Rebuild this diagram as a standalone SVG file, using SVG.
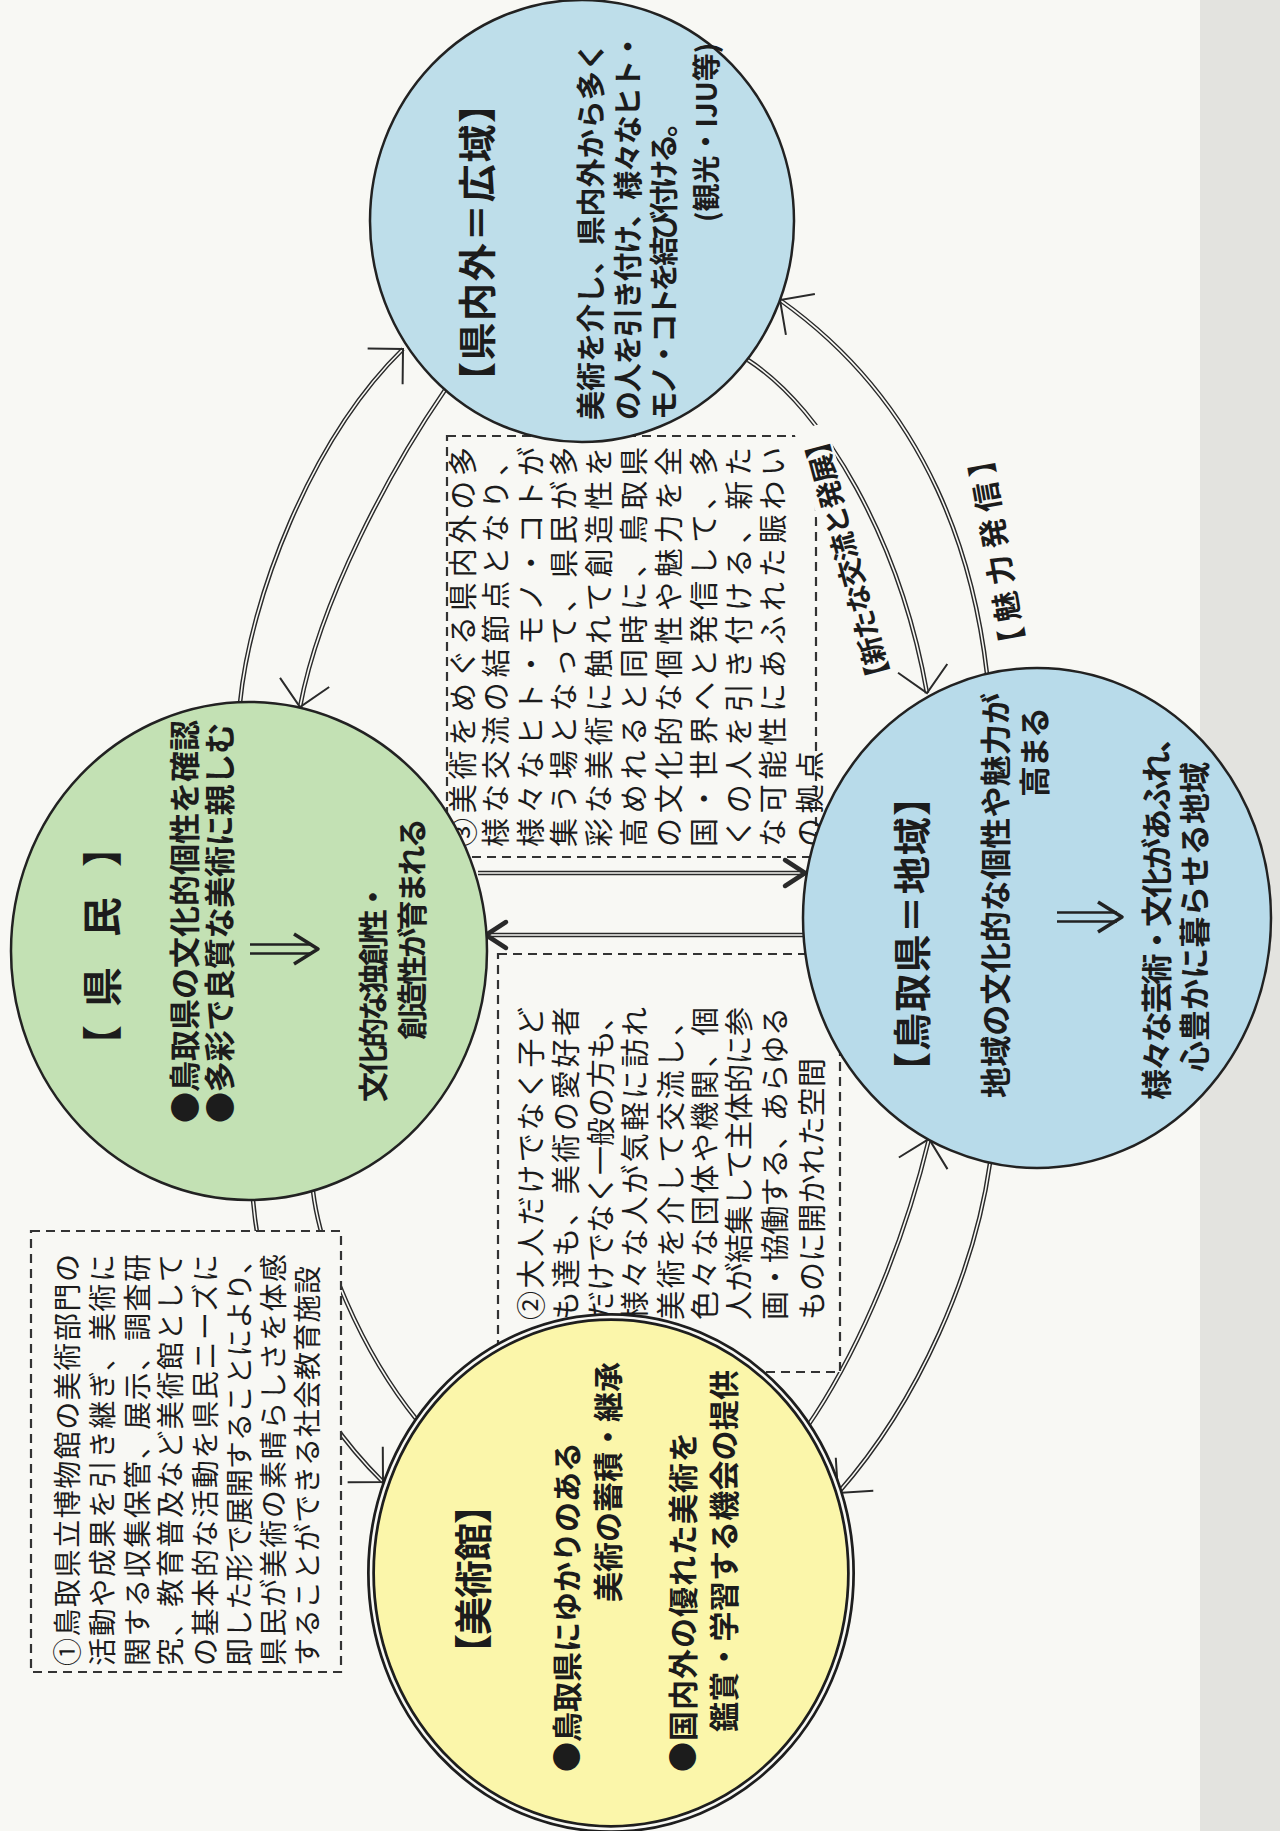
<svg xmlns="http://www.w3.org/2000/svg" width="1280" height="1831" viewBox="0 0 1280 1831">
<defs>
<style>
.t{font-family:'Noto Sans CJK JP','Noto Sans CJK SC','Noto Sans',sans-serif;fill:#1c1c1c;dominant-baseline:central}
.bx{font-size:29px;font-weight:400}
.b1{font-size:28px;font-weight:400}
.cb{font-weight:700}
.cir{stroke:#222;stroke-width:2.5}
.box{fill:#f8f8f4;stroke:#333;stroke-width:2.2;stroke-dasharray:9 6}
.d1{fill:none;stroke:#2a2a2a;stroke-width:4.5}
.d2{fill:none;stroke:#f8f8f4;stroke-width:1.6}
.sh{stroke:#222;stroke-width:2.6;fill:none}
.hd{stroke:#222;stroke-width:3.5;fill:none;stroke-linejoin:round}
</style>
<marker id="ah" markerUnits="userSpaceOnUse" orient="auto" refX="0" refY="0" markerWidth="1" markerHeight="1" style="overflow:visible"><path d="M-25,-25 L0,0 L-25,25" fill="none" stroke="#2a2a2a" stroke-width="2"/></marker>
<marker id="ahb" markerUnits="userSpaceOnUse" orient="auto" refX="0" refY="0" markerWidth="1" markerHeight="1" style="overflow:visible"><path d="M-20,-13 L0,0 L-20,13" fill="none" stroke="#2a2a2a" stroke-width="4.5" stroke-linecap="round" stroke-linejoin="round"/></marker>
</defs>
<rect x="0" y="0" width="1280" height="1831" fill="#f8f8f4"/>
<rect x="1200" y="0" width="80" height="1831" fill="#e3e3df"/>

<g id="connectors">
<path class="d1" d="M240,703 C250,600 310,440 403,349"/><path class="d2" d="M240,703 C250,600 310,440 403,349" marker-end="url(#ah)"/>
<path class="d1" d="M445,390 C390,470 320,600 300,707"/><path class="d2" d="M445,390 C390,470 320,600 300,707" marker-end="url(#ah)"/>
<path class="d1" d="M253,1200 C262,1300 300,1400 383,1482"/><path class="d2" d="M253,1200 C262,1300 300,1400 383,1482" marker-end="url(#ah)"/>
<path class="d1" d="M313,1191 C320,1250 360,1350 417,1420"/><path class="d2" d="M313,1191 C320,1250 360,1350 417,1420"/>
<path class="d1" d="M748,360 C825,410 900,540 927,693"/><path class="d2" d="M748,360 C825,410 900,540 927,693" marker-end="url(#ah)"/>
<path class="d1" d="M987,674 C975,570 935,410 780,300"/><path class="d2" d="M987,674 C975,570 935,410 780,300" marker-end="url(#ah)"/>
<path class="d1" d="M807,1427 C850,1365 900,1260 929,1139"/><path class="d2" d="M807,1427 C850,1365 900,1260 929,1139" marker-end="url(#ah)"/>
<path class="d1" d="M990,1163 C975,1270 920,1400 838,1493"/><path class="d2" d="M990,1163 C975,1270 920,1400 838,1493" marker-end="url(#ah)"/>
<path class="d1" d="M478,873 L805,873"/><path class="d2" d="M478,873 L805,873" marker-end="url(#ahb)"/>
<path class="d1" d="M805,935 L486,935"/><path class="d2" d="M805,935 L486,935" marker-end="url(#ahb)"/>
</g>

<g id="box1">
<rect class="box" x="31" y="1231" width="310" height="441"/>
<text class="t b1" transform="translate(66,1666) rotate(-90)" textLength="412">①鳥取県立博物館の美術部門の</text>
<text class="t b1" transform="translate(101,1666) rotate(-90)" textLength="412">活動や成果を引き継ぎ、美術に</text>
<text class="t b1" transform="translate(136,1666) rotate(-90)" textLength="412">関する収集保管、展示、調査研</text>
<text class="t b1" transform="translate(169,1666) rotate(-90)" textLength="412">究、教育普及など美術館として</text>
<text class="t b1" transform="translate(204,1666) rotate(-90)" textLength="412">の基本的な活動を県民ニーズに</text>
<text class="t b1" transform="translate(238,1666) rotate(-90)" textLength="420">即した形で展開することにより、</text>
<text class="t b1" transform="translate(272,1666) rotate(-90)" textLength="412">県民が美術の素晴らしさを体感</text>
<text class="t b1" transform="translate(306,1666) rotate(-90)" textLength="400">することができる社会教育施設</text>
</g>

<g id="box2">
<rect class="box" x="498" y="954" width="342" height="418"/>
<text class="t bx" transform="translate(529,1320) rotate(-90)" textLength="313">②大人だけでなく子ど</text>
<text class="t bx" transform="translate(564,1320) rotate(-90)" textLength="313">も達も、美術の愛好者</text>
<text class="t bx" transform="translate(599,1320) rotate(-90)" textLength="318">だけでなく一般の方も、</text>
<text class="t bx" transform="translate(633,1320) rotate(-90)" textLength="313">様々な人が気軽に訪れ</text>
<text class="t bx" transform="translate(669,1320) rotate(-90)" textLength="313">美術を介して交流し、</text>
<text class="t bx" transform="translate(703,1320) rotate(-90)" textLength="313">色々な団体や機関、個</text>
<text class="t bx" transform="translate(737,1320) rotate(-90)" textLength="313">人が結集して主体的に参</text>
<text class="t bx" transform="translate(773,1320) rotate(-90)" textLength="313">画・協働する、あらゆる</text>
<text class="t bx" transform="translate(810,1320) rotate(-90)" textLength="262">ものに開かれた空間</text>
</g>

<g id="box3">
<rect class="box" x="447" y="436" width="369" height="421"/>
<text class="t bx" transform="translate(461,847) rotate(-90)" textLength="400">③美術をめぐる県内外の多</text>
<text class="t bx" transform="translate(494,847) rotate(-90)" textLength="400">様な交流の結節点となり、</text>
<text class="t bx" transform="translate(529,847) rotate(-90)" textLength="400">様々なヒト・モノ・コトが</text>
<text class="t bx" transform="translate(562,847) rotate(-90)" textLength="400">集う場となって、県民が多</text>
<text class="t bx" transform="translate(597,847) rotate(-90)" textLength="400">彩な美術に触れて創造性を</text>
<text class="t bx" transform="translate(632,847) rotate(-90)" textLength="400">高めれると同時に、鳥取県</text>
<text class="t bx" transform="translate(667,847) rotate(-90)" textLength="400">の文化的な個性や魅力を全</text>
<text class="t bx" transform="translate(702,847) rotate(-90)" textLength="400">国・世界へと発信して、多</text>
<text class="t bx" transform="translate(737,847) rotate(-90)" textLength="400">くの人を引き付ける、新た</text>
<text class="t bx" transform="translate(771,847) rotate(-90)" textLength="400">な可能性にあふれた賑わい</text>
<text class="t bx" transform="translate(808,847) rotate(-90)" textLength="96">の拠点</text>
</g>

<g id="label-kouryu" transform="translate(846,560) rotate(-105)">
<rect x="-138" y="-17" width="276" height="34" fill="#f8f8f4"/>
<text class="t cb" font-size="28" text-anchor="middle" textLength="270">【新たな交流と発展】</text>
</g>
<g id="label-miryoku" transform="translate(995,552) rotate(-100)">
<text class="t cb" font-size="30" text-anchor="middle" textLength="215">【魅力発信】</text>
</g>

<g id="node-kengai">
<ellipse class="cir" cx="582" cy="221" rx="212" ry="221" fill="#bedeea"/>
<text class="t cb" font-size="38" transform="translate(474,400) rotate(-90)" textLength="315">【県内外＝広域】</text>
<text class="t cb" font-size="29" transform="translate(589,420) rotate(-90)" textLength="378">美術を介し、県内外から多く</text>
<text class="t cb" font-size="29" transform="translate(626,420) rotate(-90)" textLength="388">の人を引き付け、様々なヒト・</text>
<text class="t cb" font-size="29" transform="translate(662,420) rotate(-90)" textLength="312">モノ・コトを結び付ける。</text>
<text class="t cb" font-size="28" transform="translate(705,222) rotate(-90)">(観光・IJU等)</text>
</g>

<g id="node-kenmin">
<ellipse class="cir" cx="249" cy="951" rx="238" ry="249" fill="#c3e1b4"/>
<text class="t cb" font-size="40" text-anchor="middle" transform="translate(100,1045) rotate(-90)">【</text>
<text class="t cb" font-size="40" text-anchor="middle" transform="translate(100,987) rotate(-90)">県</text>
<text class="t cb" font-size="40" text-anchor="middle" transform="translate(100,917) rotate(-90)">民</text>
<text class="t cb" font-size="40" text-anchor="middle" transform="translate(100,847) rotate(-90)">】</text>
<text class="t cb" font-size="31" transform="translate(182,1123) rotate(-90)" textLength="403">●鳥取県の文化的個性を確認</text>
<text class="t cb" font-size="31" transform="translate(217,1123) rotate(-90)" textLength="400">●多彩で良質な美術に親しむ</text>
<path class="sh" d="M250,944.5 H312 M250,953.5 H312"/>
<path class="hd" d="M294,934 L318,949 L294,964"/>
<text class="t cb" font-size="30" transform="translate(371,1102) rotate(-90)" textLength="220">文化的な独創性・</text>
<text class="t cb" font-size="30" transform="translate(410,1040) rotate(-90)" textLength="222">創造性が育まれる</text>
</g>

<g id="node-chiiki">
<ellipse class="cir" cx="1037" cy="918" rx="234" ry="250" fill="#b8dbea"/>
<text class="t cb" font-size="38" transform="translate(909,1090) rotate(-90)" textLength="312">【鳥取県＝地域】</text>
<text class="t cb" font-size="31" transform="translate(993,1098) rotate(-90)" textLength="405">地域の文化的な個性や魅力が</text>
<text class="t cb" font-size="31" transform="translate(1032,797) rotate(-90)" textLength="90">高まる</text>
<path class="sh" d="M1057,912.5 H1117 M1057,921.5 H1117"/>
<path class="hd" d="M1098,902 L1122,917 L1098,932"/>
<text class="t cb" font-size="31" transform="translate(1154,1100) rotate(-90)" textLength="378">様々な芸術・文化があふれ、</text>
<text class="t cb" font-size="31" transform="translate(1192,1072) rotate(-90)" textLength="310">心豊かに暮らせる地域</text>
</g>

<g id="node-museum">
<ellipse cx="611" cy="1573" rx="240" ry="256" fill="#fbf6aa" stroke="#1e1e1e" stroke-width="8"/>
<ellipse cx="611" cy="1573" rx="240" ry="256" fill="none" stroke="#f8f8f4" stroke-width="2.5"/>
<text class="t cb" font-size="38" transform="translate(470,1672) rotate(-90)" textLength="186">【美術館】</text>
<text class="t cb" font-size="30" transform="translate(565,1772) rotate(-90)" textLength="330">●鳥取県にゆかりのある</text>
<text class="t cb" font-size="30" transform="translate(606,1602) rotate(-90)" textLength="240">美術の蓄積・継承</text>
<text class="t cb" font-size="30" transform="translate(681,1772) rotate(-90)" textLength="340">●国内外の優れた美術を</text>
<text class="t cb" font-size="30" transform="translate(722,1732) rotate(-90)" textLength="362">鑑賞・学習する機会の提供</text>
</g>
</svg>
